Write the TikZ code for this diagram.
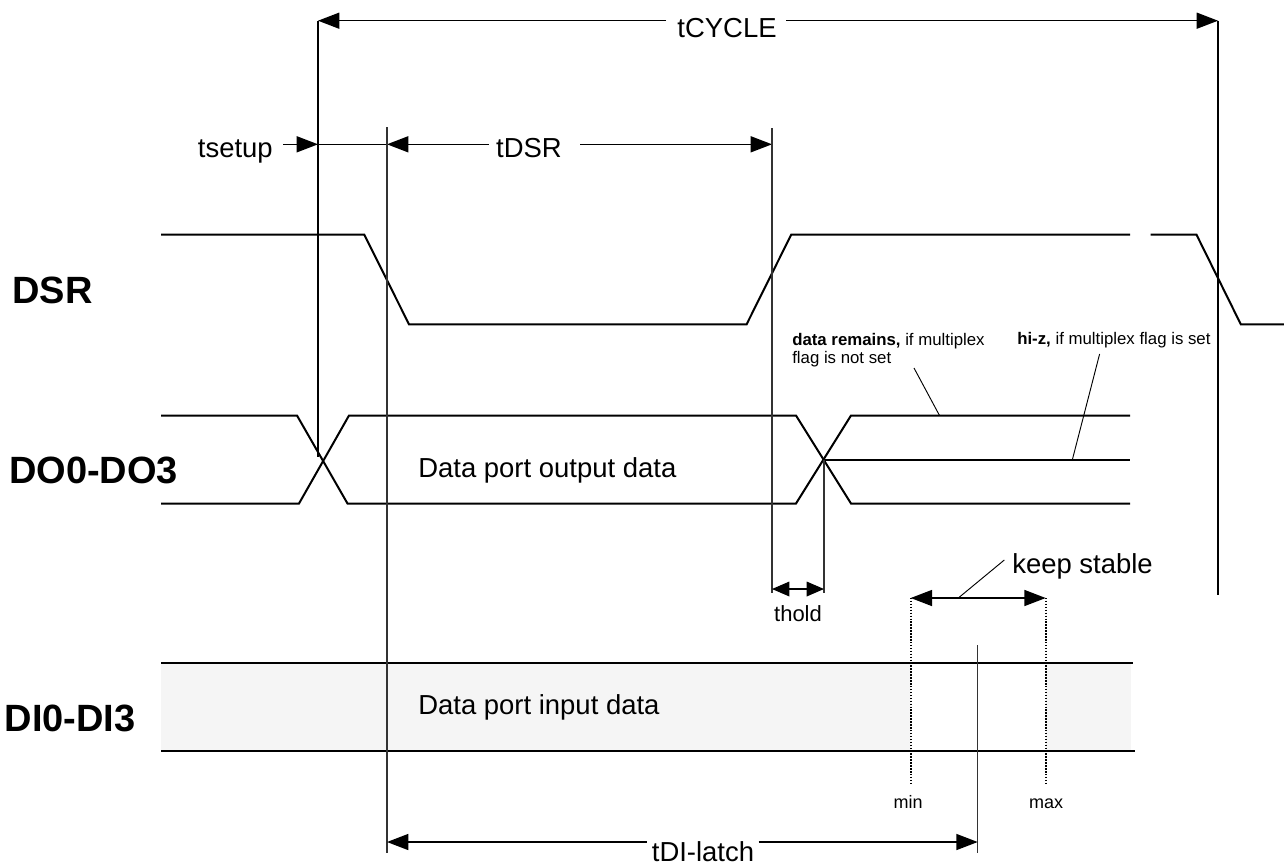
\documentclass[tikz,border=0pt]{standalone}
\usepackage{fontspec}
\setmainfont{Liberation Sans}
\usetikzlibrary{arrows.meta}
\definecolor{difill}{HTML}{F5F5F5}
\begin{document}
\begin{tikzpicture}[x=0.75pt,y=-0.75pt,
  sig/.style={line width=1.5pt, line join=miter},
  tv/.style={line width=1.3pt},
  gv/.style={line width=0.9pt, draw=black!80},
  dim/.style={line width=1.1pt, -{Triangle[length=16pt,width=12pt]}},
  dimboth/.style={line width=1.1pt, {Triangle[length=16pt,width=12pt]}-{Triangle[length=16pt,width=12pt]}},
  smallboth/.style={line width=0.9pt, {Triangle[length=13pt,width=11pt]}-{Triangle[length=13pt,width=11pt]}},
  lead/.style={line width=0.7pt},
  dots/.style={line width=1.4pt, dash pattern=on 1.1pt off 1.1pt},
  big/.style={font=\fontsize{28.5}{32}\selectfont\bfseries, inner sep=0pt},
  med/.style={font=\fontsize{20.6}{24}\selectfont, inner sep=0pt},
  mid/.style={font=\fontsize{16.5}{19}\selectfont, inner sep=0pt},
  small/.style={font=\fontsize{12.6}{14}\selectfont, inner sep=0pt, align=left},
  tiny/.style={font=\fontsize{13.5}{15}\selectfont, inner sep=0pt},
]
\useasboundingbox (0,0) rectangle (1284,865);

% ---- DI band fill
\fill[difill] (161,663.3) rectangle (910.7,751);
\fill[difill] (1045.7,663.3) rectangle (1131,751);

% ---- signal labels
\node[big, anchor=base west] (lDSR) at (12,303.3) {DSR};
\node[big, anchor=base west] (lDO) at (8.8,483.3) {DO0-DO3};
\node[big, anchor=base west] (lDI) at (4.4,731.7) {DI0-DI3};

% ---- DSR waveform
\draw[sig] (161,234.7) -- (364.3,234.7) -- (409,324.3) -- (746.6,324.3) -- (791.2,234.7) -- (1130,234.7);
\draw[sig] (1150.6,234.7) -- (1196.5,234.7) -- (1240.8,324.3) -- (1284,324.3);

% ---- DO waveform
\draw[sig] (161,415.5) -- (297,415.5) -- (347.5,503.5) -- (796,503.5) -- (851,415.5) -- (1130,415.5);
\draw[sig] (161,503.5) -- (299,503.5) -- (349,415.5) -- (796,415.5) -- (851,503.5) -- (1130,503.5);
\draw[sig] (823.5,459.5) -- (1130,459.5);
\node[med, anchor=base west] (tDO) at (418,477.7) {Data port output data};

% ---- DI waveform
\draw[sig] (161,663.3) -- (1133,663.3);
\draw[sig] (161,751) -- (1135,751);
\node[med, anchor=base west] (tDI) at (418,714) {Data port input data};

% ---- tCYCLE
\coordinate (cyL) at (318,20.7);
\coordinate (cyR) at (1218,20.7);
\coordinate (cyA) at (666,20.7);
\coordinate (cyB) at (786,20.7);
\coordinate (cyLb) at (318,457);
\coordinate (cyRb) at (1218,595);
\node[med, anchor=base] (tcy) at (727,37.7) {tCYCLE};
\draw[tv] (cyL) -- (cyLb);
\draw[tv] (cyR) -- (cyRb);
\draw[dim] (cyA) -- (cyL);
\draw[dim] (cyB) -- (cyR);

% ---- tsetup / tDSR
\coordinate (suA) at (283,144.3);
\coordinate (suL) at (318,144.3);
\coordinate (suR) at (387,144.3);
\coordinate (dsA) at (488.5,144.3);
\coordinate (dsB) at (580,144.3);
\coordinate (dsR) at (772,144.3);
\node[med, anchor=base east] (tsu) at (273,157.3) {tsetup};
\node[med, anchor=base] (tds) at (529,157.7) {tDSR};
\draw[dim] (suA) -- (suL);
\draw[line width=1.1pt] (suL) -- (suR);
\draw[dim] (dsA) -- (suR);
\draw[dim] (dsB) -- (dsR);

% ---- vertical reference lines
\coordinate (v1t) at (387,127);
\coordinate (v1b) at (387,853);
\coordinate (v2t) at (772,128);
\coordinate (v2b) at (772,593);
\coordinate (v3t) at (824,459.5);
\coordinate (v3b) at (824,593);
\draw[gv] (v1t) -- (v1b);
\draw[gv] (v2t) -- (v2b);
\draw[gv] (v3t) -- (v3b);

% ---- thold
\coordinate (thL) at (772,589);
\coordinate (thR) at (824,589);
\draw[smallboth] (thL) -- (thR);
\node[mid, anchor=base] (thold) at (798,621.7) {thold};

% ---- annotations
\node[small, anchor=north west] (ann1) at (792,332.8) {\textbf{data remains,} if multiplex\\flag is not set};
\node[small, anchor=base west] (ann2) at (1017,344.5) {\textbf{hi-z,} if multiplex flag is set};
\coordinate (ld1a) at (914,368);
\coordinate (ld1b) at (939.5,415.5);
\coordinate (ld2a) at (1099.6,354);
\coordinate (ld2b) at (1072.4,459.5);
\draw[lead] (ld1a) -- (ld1b);
\draw[lead] (ld2a) -- (ld2b);

% ---- keep stable
\coordinate (ksL) at (910.7,598);
\coordinate (ksR) at (1045.7,598);
\coordinate (ksM) at (958.3,598);
\coordinate (ksT) at (1004.3,560);
\draw[dimboth] (ksL) -- (ksR);
\draw[lead] (ksM) -- (ksT);
\node[med, anchor=base west] (keep) at (1012,573.3) {keep stable};
\coordinate (minb) at (910.7,785);
\coordinate (maxb) at (1045.7,785);
\draw[dots] (ksL) -- (minb);
\draw[dots] (ksR) -- (maxb);
\node[tiny, anchor=base] (lmin) at (908,808.3) {min};
\node[tiny, anchor=base] (lmax) at (1046,808.3) {max};

% ---- tDI-latch
\coordinate (lat) at (977.7,645);
\coordinate (latb) at (977.7,853);
\draw[gv] (lat) -- (latb);
\coordinate (tlL) at (387,842);
\coordinate (tlR) at (977.7,842);
\coordinate (tlA) at (646.9,842);
\coordinate (tlB) at (758.5,842);
\node[med, anchor=base] (tdl) at (703,861) {tDI-latch};
\draw[dim] (tlA) -- (tlL);
\draw[dim] (tlB) -- (tlR);
\end{tikzpicture}
\end{document}
